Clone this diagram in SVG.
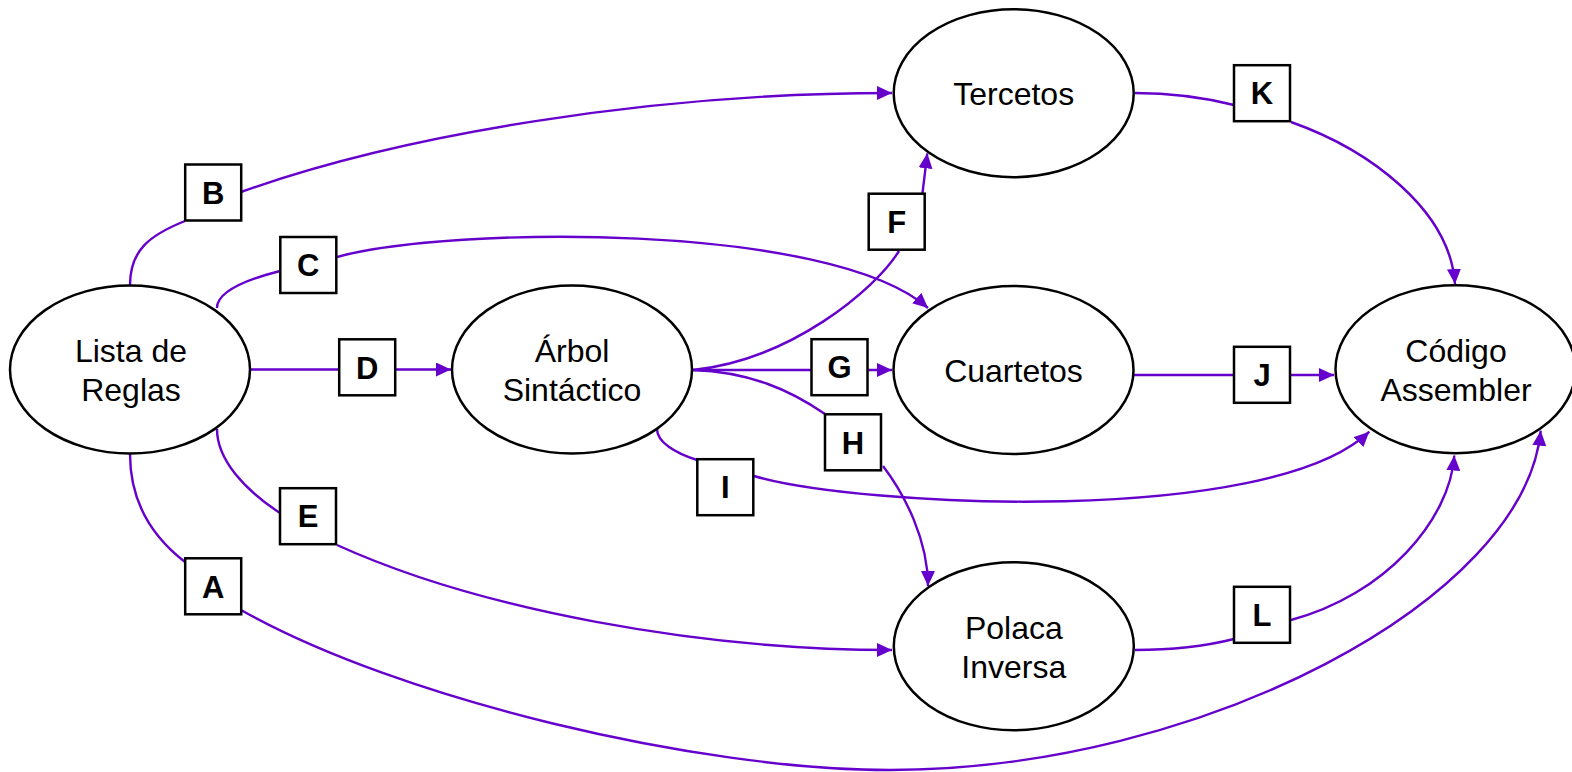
<svg xmlns="http://www.w3.org/2000/svg" width="1572" height="772" viewBox="0 0 1572 772">
  <style>
    .edge { fill: none; stroke: #6600CC; stroke-width: 2.4; }
    .node ellipse { fill: #ffffff; stroke: #000000; stroke-width: 2.5; }
    .node text { font-family: "Liberation Sans", Arial, sans-serif; font-size: 32px; fill: #000000; text-anchor: middle; }
    .lbl rect { fill: #ffffff; stroke: #000000; stroke-width: 2.5; }
    .lbl text { font-family: "Liberation Sans", Arial, sans-serif; font-size: 31px; font-weight: bold; fill: #000000; text-anchor: middle; }
  </style>
  <defs>
    <marker id="arr" markerUnits="userSpaceOnUse" markerWidth="17" markerHeight="15" refX="15" refY="7" orient="auto">
      <path d="M0,0 L15,7 L0,14 z" fill="#6600CC"/>
    </marker>
  </defs>
  <rect x="0" y="0" width="1572" height="772" fill="#ffffff"/>

  <g id="connectors">
    <path id="edge-A" class="edge" marker-end="url(#arr)" d="M130,454 C130,500 150,535 185,562 M241,610 C400,700 700,770 890,770 C1200,770 1525,600 1540.7,430.7"/>
    <path id="edge-B" class="edge" marker-end="url(#arr)" d="M130,285 C130,250 150,235 185,221 M241,192 C400,135 650,93 892,93"/>
    <path id="edge-C" class="edge" marker-end="url(#arr)" d="M217,308 C217,292 245,280 280,271 M337,257 C450,226 830,222 928,308"/>
    <path id="edge-D" class="edge" marker-end="url(#arr)" d="M251,369.5 L451,369.5"/>
    <path id="edge-E" class="edge" marker-end="url(#arr)" d="M217,429 C217,460 245,490 280,513 M337,545 C480,610 700,650 892,650"/>
    <path id="edge-F" class="edge" marker-end="url(#arr)" d="M693,370 C790,360 875,290 899,251 M922.5,193 L927.3,153.3"/>
    <path id="edge-G" class="edge" marker-end="url(#arr)" d="M693,370 L892,370"/>
    <path id="edge-H" class="edge" marker-end="url(#arr)" d="M693,370 C750,372 790,390 825,414 M883,466 C905,495 928,540 928,586"/>
    <path id="edge-I" class="edge" marker-end="url(#arr)" d="M657,429 C657,442 675,453 697,460 M754,476 C860,507 1270,527 1369.3,431.7"/>
    <path id="edge-J" class="edge" marker-end="url(#arr)" d="M1134,375 L1334,375"/>
    <path id="edge-K" class="edge" marker-end="url(#arr)" d="M1135,93 C1180,93 1210,99 1234,105 M1291,122 C1370,150 1450,210 1455,284"/>
    <path id="edge-L" class="edge" marker-end="url(#arr)" d="M1135,650 C1180,650 1210,645 1234,639 M1291,620 C1385,595 1450,520 1454.3,455.5"/>

    <g id="label-A" class="lbl"><rect x="185.2" y="558.3" width="56" height="56"/><text x="213.2" y="597.5">A</text></g>
    <g id="label-B" class="lbl"><rect x="185.2" y="164.5" width="56" height="56"/><text x="213.2" y="203.7">B</text></g>
    <g id="label-C" class="lbl"><rect x="280.3" y="237" width="56" height="56"/><text x="308.3" y="276.2">C</text></g>
    <g id="label-D" class="lbl"><rect x="339.2" y="339.3" width="56" height="56"/><text x="367.2" y="378.5">D</text></g>
    <g id="label-E" class="lbl"><rect x="280" y="488.2" width="56" height="56"/><text x="308" y="527.4">E</text></g>
    <g id="label-F" class="lbl"><rect x="868.7" y="193.7" width="56" height="56"/><text x="896.7" y="232.9">F</text></g>
    <g id="label-G" class="lbl"><rect x="811.5" y="339.2" width="56" height="56"/><text x="839.5" y="378.4">G</text></g>
    <g id="label-H" class="lbl"><rect x="825" y="414.3" width="56" height="56"/><text x="853" y="453.5">H</text></g>
    <g id="label-I" class="lbl"><rect x="697.3" y="459.2" width="56" height="56"/><text x="725.3" y="498.4">I</text></g>
    <g id="label-J" class="lbl"><rect x="1234" y="346.8" width="56" height="56"/><text x="1262" y="386">J</text></g>
    <g id="label-K" class="lbl"><rect x="1234" y="65.2" width="56" height="56"/><text x="1262" y="104.4">K</text></g>
    <g id="label-L" class="lbl"><rect x="1234" y="586.8" width="56" height="56"/><text x="1262" y="626">L</text></g>
  </g>

  <g id="node-lista" class="node">
    <ellipse cx="130" cy="369.5" rx="120" ry="84"/>
    <text x="131" y="362">Lista de</text>
    <text x="131" y="400.5">Reglas</text>
  </g>
  <g id="node-arbol" class="node">
    <ellipse cx="572" cy="369.5" rx="120" ry="84"/>
    <text x="572" y="362">Árbol</text>
    <text x="572" y="400.5">Sintáctico</text>
  </g>
  <g id="node-tercetos" class="node">
    <ellipse cx="1013.7" cy="93.2" rx="120" ry="84"/>
    <text x="1013.7" y="105">Tercetos</text>
  </g>
  <g id="node-cuartetos" class="node">
    <ellipse cx="1013.5" cy="370" rx="120" ry="84"/>
    <text x="1013.5" y="381.5">Cuartetos</text>
  </g>
  <g id="node-polaca" class="node">
    <ellipse cx="1013.8" cy="646.3" rx="120" ry="84"/>
    <text x="1013.8" y="639">Polaca</text>
    <text x="1013.8" y="677.5">Inversa</text>
  </g>
  <g id="node-codigo" class="node">
    <ellipse cx="1455.5" cy="369.2" rx="120" ry="84"/>
    <text x="1456" y="362">Código</text>
    <text x="1456" y="400.5">Assembler</text>
  </g>
</svg>
